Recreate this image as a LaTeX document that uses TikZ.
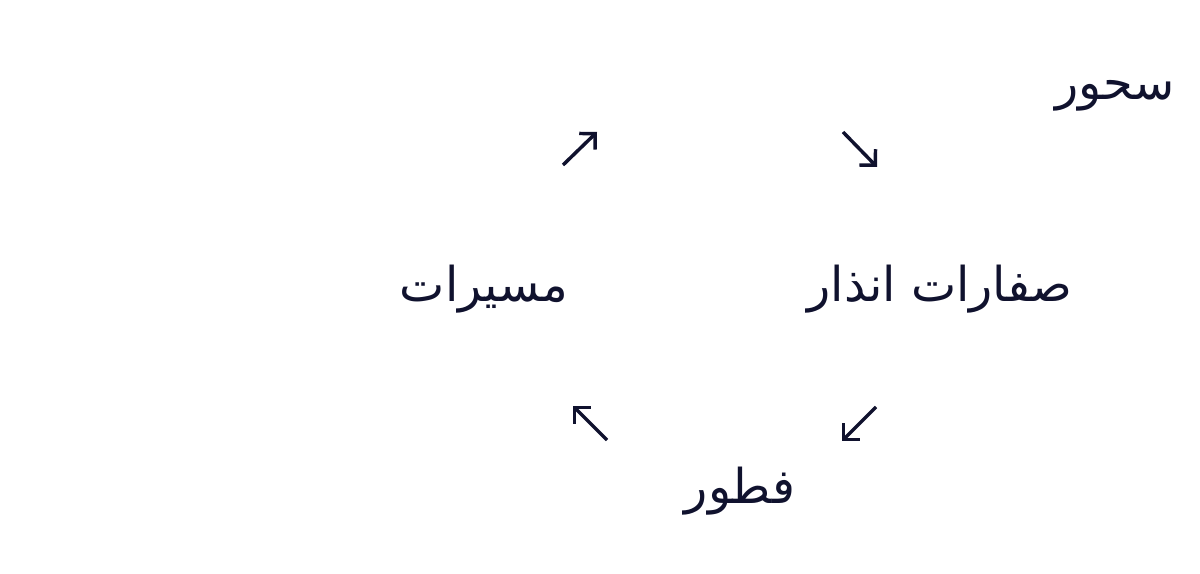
\documentclass[tikz,border=0pt]{standalone}
\usepackage{fontspec}
\usetikzlibrary{arrows.meta}
\TeXXeTstate=1
\newfontfamily\arabicfont[Script=Arabic]{DejaVu Sans}
\definecolor{inkblue}{RGB}{16,18,46}

\begin{document}
\begin{tikzpicture}[x=0.75pt,y=0.75pt,yscale=-1,
  word/.style={text=inkblue,font=\arabicfont\fontsize{36}{42}\selectfont,inner sep=0pt,anchor=base},
  cyc/.style={draw=inkblue,line width=2.6pt,-{Straight Barb[angle=90:12pt,line join=miter]}}]
%set diagram: 1200 x 574
\useasboundingbox (0,0) rectangle (1200,574);

% Text Node
\node[word] (suhur) at (1115,100) {\beginR سحور\endR};
% Text Node
\node[word] (sirens) at (940,301) {\beginR صفارات انذار\endR};
% Text Node
\node[word] (drones) at (484,301) {\beginR مسيرات\endR};
% Text Node
\node[word] (futur) at (740,503) {\beginR فطور\endR};

% arrow ends
\coordinate (a1s) at (563,165);
\coordinate (a1e) at (597,132);
\coordinate (a2s) at (843,132);
\coordinate (a2e) at (877,167);
\coordinate (a3s) at (876,407);
\coordinate (a3e) at (842,441);
\coordinate (a4s) at (607,440);
\coordinate (a4e) at (573,406);

%Straight Lines
\draw[cyc] (a1s) -- (a1e);
\draw[cyc] (a2s) -- (a2e);
\draw[cyc] (a3s) -- (a3e);
\draw[cyc] (a4s) -- (a4e);

\end{tikzpicture}
\end{document}
